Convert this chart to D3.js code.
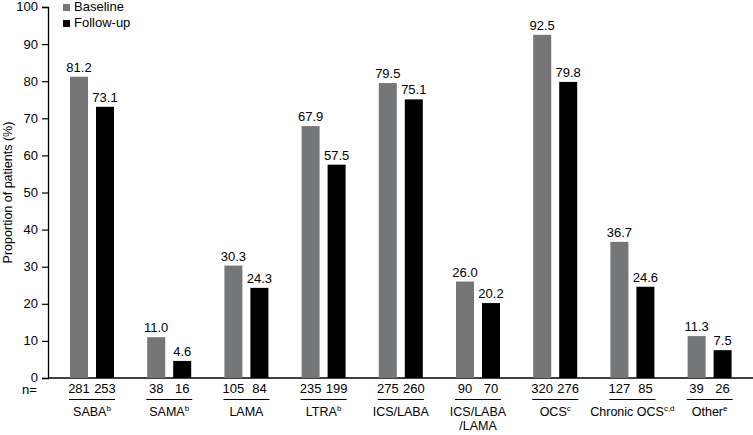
<!DOCTYPE html>
<html>
<head>
<meta charset="utf-8">
<script src="https://cdn.jsdelivr.net/npm/d3@7"></script>
<style>
  body { margin: 0; background: #fff; }
  svg text { font-family: "Liberation Sans", Arial, sans-serif; fill: #000; }
</style>
</head>
<body>
<div id="chart"></div>
<script>
// category name, superscript, second line
var categories = ['SABA', 'SAMA', 'LAMA', 'LTRA', 'ICS/LABA', 'ICS/LABA', 'OCS', 'Chronic OCS', 'Other'];
var cat_sup = ['b', 'b', '', 'b', '', '', 'c', 'c,d', 'e'];
var cat_line2 = ['', '', '', '', '', '/LAMA', '', '', ''];
var baseline = [81.2, 11.0, 30.3, 67.9, 79.5, 26.0, 92.5, 36.7, 11.3];
var follow_up = [73.1, 4.6, 24.3, 57.5, 75.1, 20.2, 79.8, 24.6, 7.5];
var n_baseline = [281, 38, 105, 235, 275, 90, 320, 127, 39];
var n_follow_up = [253, 16, 84, 199, 260, 70, 276, 85, 26];
var y_ticks = [0, 10, 20, 30, 40, 50, 60, 70, 80, 90, 100];
var series = ['Baseline', 'Follow-up'];
var colors = ['#747678', '#000000'];

var width = 753, height = 435;
var svg = d3.select('#chart').append('svg').attr('width', width).attr('height', height);

var axis_x = 48, base_y = 378, top_y = 7;
var y_scale = d3.scaleLinear().domain([0, 100]).range([base_y, top_y]);
var keys = categories.map((c, i) => i);
var x_scale = d3.scaleBand().domain(keys).range([53.4, 748.2]).paddingInner(0).paddingOuter(0);
var x_sub = d3.scaleBand().domain(series).range([0, 44]).paddingInner(0.3077);
var group_off = (x_scale.bandwidth() - 44) / 2;

// y axis
var y_axis = svg.append('g').attr('transform', `translate(${axis_x},0)`)
    .call(d3.axisLeft(y_scale).tickValues(y_ticks).tickSize(6).tickPadding(4).tickFormat(d3.format('d')));
y_axis.select('.domain').attr('stroke', '#000').attr('stroke-width', 1.3);
y_axis.selectAll('.tick line').attr('stroke', '#000').attr('stroke-width', 1.2);
y_axis.selectAll('.tick text').attr('font-size', 13).attr('dy', '0.3em')
    .attr('font-family', '"Liberation Sans", Arial, sans-serif');

// x axis line
svg.append('line').attr('x1', axis_x).attr('x2', width).attr('y1', base_y).attr('y2', base_y)
    .attr('stroke', '#000').attr('stroke-width', 1.3);

svg.append('text').text('Proportion of patients (%)')
    .attr('transform', `translate(12,${(base_y + top_y) / 2}) rotate(-90)`)
    .attr('text-anchor', 'middle').attr('font-size', 12.5);

var main_group = svg.append('g');
var values = [baseline, follow_up];
var n_values = [n_baseline, n_follow_up];
keys.forEach(i => {
    var gx = x_scale(i) + group_off;
    series.forEach((s, j) => {
        var v = values[j][i];
        var bx = gx + x_sub(s);
        main_group.append('rect')
            .attr('x', bx).attr('y', y_scale(v))
            .attr('width', x_sub.bandwidth()).attr('height', base_y - y_scale(v))
            .attr('fill', colors[j]);
        main_group.append('text').text(v.toFixed(1))
            .attr('x', bx + x_sub.bandwidth() / 2).attr('y', y_scale(v) - 5)
            .attr('text-anchor', 'middle').attr('font-size', 13);
        main_group.append('text').text(n_values[j][i])
            .attr('x', bx + x_sub.bandwidth() / 2).attr('y', 393)
            .attr('text-anchor', 'middle').attr('font-size', 13);
    });
    // underline below n values
    main_group.append('line').attr('x1', gx - 1).attr('x2', gx + 45).attr('y1', 399.5).attr('y2', 399.5)
        .attr('stroke', '#000').attr('stroke-width', 1.2);
    var label = main_group.append('text')
        .attr('x', gx + 22).attr('y', 416).attr('text-anchor', 'middle').attr('font-size', 12.5);
    label.append('tspan').text(categories[i]);
    if (cat_sup[i]) {
        label.append('tspan').text(cat_sup[i]).attr('font-size', 8).attr('dy', -5);
    }
    if (cat_line2[i]) {
        main_group.append('text').text(cat_line2[i])
            .attr('x', gx + 22).attr('y', 430).attr('text-anchor', 'middle').attr('font-size', 12.5);
    }
});

svg.append('text').text('n=').attr('x', 22).attr('y', 394).attr('font-size', 13);

// legend
var legend = svg.append('g');
series.forEach((s, j) => {
    legend.append('rect').attr('x', 63).attr('y', 4 + j * 16).attr('width', 7).attr('height', 7).attr('fill', colors[j]);
    legend.append('text').text(s).attr('x', 74).attr('y', 11 + j * 16).attr('font-size', 13);
});
</script>
</body>
</html>
